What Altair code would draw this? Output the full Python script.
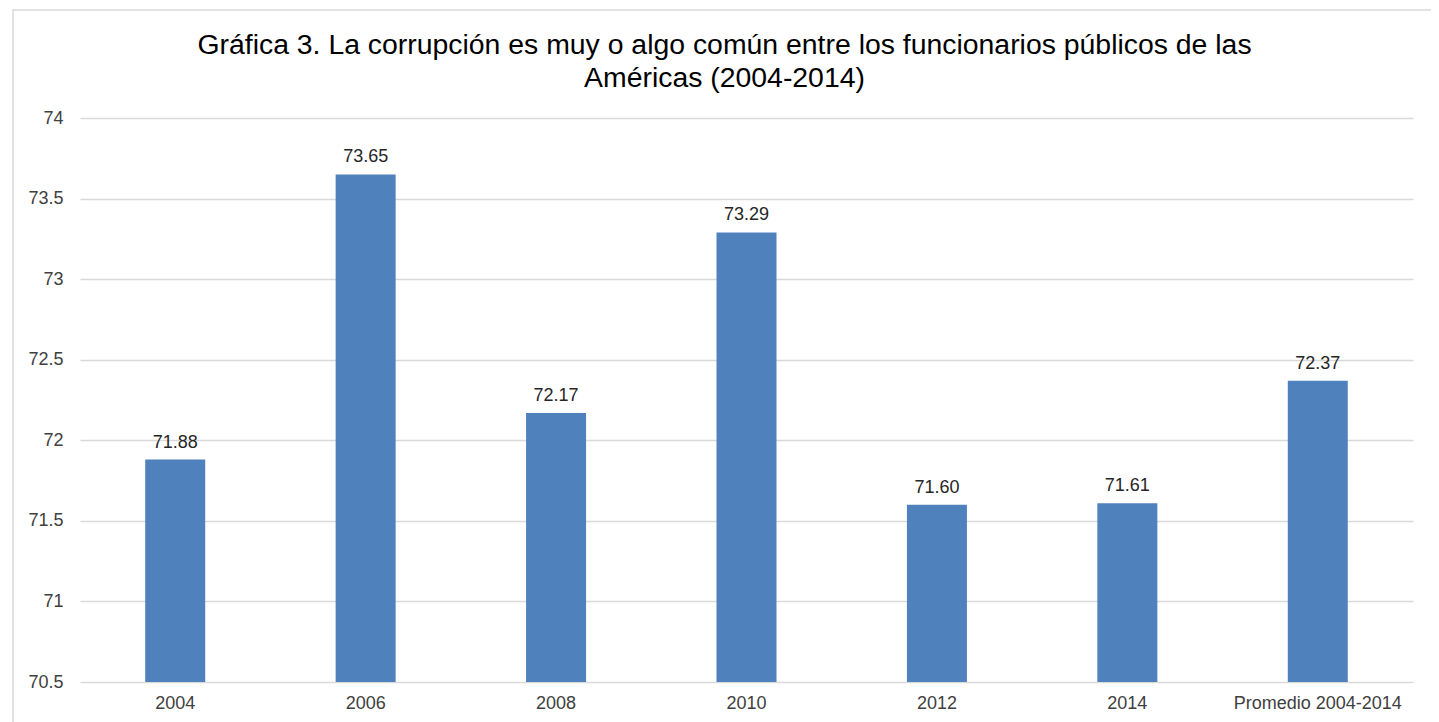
import altair as alt
import pandas as pd

categories = ["2004", "2006", "2008", "2010", "2012", "2014", "Promedio 2004-2014"]
values = [71.88, 73.65, 72.17, 73.29, 71.60, 71.61, 72.37]
labels = ["71.88", "73.65", "72.17", "73.29", "71.60", "71.61", "72.37"]
y_ticks = [70.5, 71, 71.5, 72, 72.5, 73, 73.5, 74]

df = pd.DataFrame({"cat": categories, "val": values, "lab": labels})

FONT = "Liberation Sans"

x = alt.X("cat:N", sort=categories, title=None,
          scale=alt.Scale(paddingInner=0, paddingOuter=0),
          axis=alt.Axis(labelAngle=0, ticks=False, domain=False, labelPadding=12,
                        labelFontSize=18, labelColor="#404040", labelFont=FONT))
y = alt.Y("val:Q", title=None,
          scale=alt.Scale(domain=[70.5, 74], zero=False, nice=False),
          axis=alt.Axis(values=y_ticks, labelExpr="'' + datum.value", ticks=False,
                        domain=False, labelPadding=17, labelFontSize=18,
                        labelColor="#404040", labelFont=FONT,
                        gridColor="#d9d9d9", gridWidth=1.5))

base = alt.Chart(df)

bars = base.mark_bar(size=60, color="#4F81BD").encode(x=x, y=y, y2=alt.datum(70.5))
text = base.mark_text(baseline="bottom", dy=-8, fontSize=18, font=FONT, color="#262626").encode(
    x=x, y=y, text="lab:N")

frame = alt.Chart(pd.DataFrame({"a": [0]})).mark_rect(
    fill=None, stroke="#d9d9d9", strokeWidth=1.5).encode(
    x=alt.value(-67), x2=alt.value(1353), y=alt.value(-108), y2=alt.value(640))

chart = alt.layer(frame, bars, text).properties(
    width=1333, height=564,
    padding={"left": 72, "top": 110, "right": 18, "bottom": 40},
    autosize=alt.AutoSizeParams(type="none"),
    title=alt.TitleParams(
        ["Gráfica 3. La corrupción es muy o algo común entre los funcionarios públicos de las",
         "Américas (2004-2014)"],
        fontSize=28.4, font=FONT, fontWeight="normal", color="#000000",
        anchor="middle", frame="group", dx=-22, dy=114, offset=30, lineHeight=33),
).configure(background="white").configure_view(stroke=None, strokeWidth=0)

chart.save("out.html", embed_options={"renderer": "svg", "actions": False})
